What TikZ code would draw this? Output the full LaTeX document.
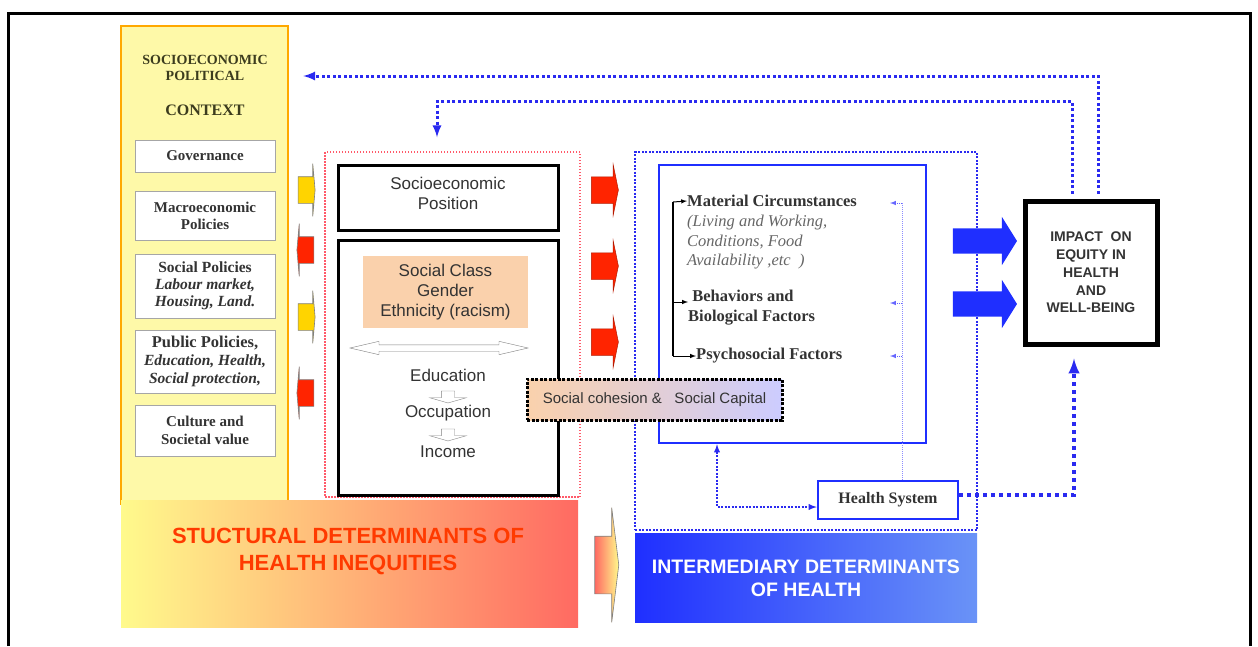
\documentclass[tikz,border=0pt]{standalone}
\usepackage{fontspec}
\setmainfont{Liberation Serif}
\setsansfont{Liberation Sans}
\usetikzlibrary{shapes.arrows,positioning}
\definecolor{ctxfill}{HTML}{FEF9A8}
\definecolor{ctxline}{HTML}{FFA800}
\definecolor{ctxtext}{HTML}{3C3C1E}
\definecolor{boxtext}{HTML}{333333}
\definecolor{subtext}{HTML}{666666}
\definecolor{peach}{HTML}{FAD1AC}
\definecolor{arryellow}{HTML}{FFD400}
\definecolor{arrred}{HTML}{FF2400}
\definecolor{mainblue}{HTML}{1F2FFF}
\definecolor{lightblue}{HTML}{6A93F7}
\definecolor{dotblue}{HTML}{2A2AF0}
\definecolor{dotred}{HTML}{FF5A6A}
\definecolor{barleft}{HTML}{FFFA8C}
\definecolor{barright}{HTML}{FF6A62}
\definecolor{bartext}{HTML}{FF3A00}
\tikzstyle{context}=[
	rectangle,
	draw=ctxline,
	line width=2.5,
	fill=ctxfill,
	minimum width=167,
	minimum height=478]
\tikzstyle{ctxtitle}=[
	align=center,
	text=ctxtext,
	font=\bfseries\fontsize{14}{16}\selectfont]
\tikzstyle{ctxitem}=[
	rectangle,
	draw=gray!70,
	line width=1,
	fill=white,
	minimum width=140,
	minimum height=32,
	inner sep=1,
	align=center,
	text=boxtext,
	font=\bfseries\fontsize{15}{17}\selectfont]
\tikzstyle{blackbox}=[
	rectangle,
	draw=black,
	line width=3,
	fill=white,
	minimum width=220,
	align=center,
	text=boxtext,
	font=\sffamily\fontsize{17}{20}\selectfont]
\tikzstyle{plain}=[
	text=boxtext,
	inner sep=1,
	font=\sffamily\fontsize{17}{20}\selectfont]
\tikzstyle{smalldown}=[
	single arrow,
	shape border rotate=270,
	draw=gray,
	fill=white,
	inner xsep=6.5,
	inner ysep=0,
	minimum height=12,
	single arrow head extend=11.5,
	single arrow tip angle=148]
\tikzstyle{thinarrow}=[
	single arrow,
	draw=gray,
	line width=0.6,
	inner xsep=0,
	inner ysep=13,
	minimum height=17,
	single arrow head extend=13,
	single arrow tip angle=170]
\tikzstyle{redarrow}=[
	single arrow,
	fill=arrred,
	draw=arrred!70!black,
	line width=0.5,
	inner xsep=0,
	inner ysep=13,
	minimum height=27,
	single arrow head extend=12,
	single arrow tip angle=157]
\tikzstyle{bluearrow}=[
	single arrow,
	fill=mainblue,
	inner xsep=0,
	inner ysep=12.5,
	minimum height=64,
	single arrow head extend=11.5,
	single arrow tip angle=116]
\tikzstyle{item}=[
	align=left,
	inner sep=0,
	text=boxtext,
	font=\bfseries\fontsize{16.5}{20}\selectfont]
\tikzstyle{feedback}=[
	draw=dotblue,
	line width=3,
	dash pattern=on 3pt off 2.5pt]

\begin{document}
\begin{tikzpicture}[x=1pt,y=-1pt,>=latex]
	\useasboundingbox (0,0) rectangle (1258,646);
	\draw[line width=3] (8,646) -- (8,13) -- (1250,13) -- (1250,646);
	% context column
	\node[context] (ctx) at (204.5,265) {};
	\node[ctxtitle] (ctxtop) at (205,68) {SOCIOECONOMIC\\POLITICAL};
	\node[ctxtitle,font=\bfseries\fontsize{16}{18}\selectfont] (ctxname) at (205,110) {CONTEXT};
	\node[ctxitem] (gov) at (205,156) {Governance};
	\node[ctxitem,minimum height=49] (macro) at (205,215.5) {Macroeconomic\\Policies};
	\node[ctxitem,minimum height=64,font=\bfseries\fontsize{15.5}{17}\selectfont] (socpol) at (205,286) {Social Policies\\\textit{Labour market,}\\\textit{Housing, Land.}};
	\node[ctxitem,minimum height=63,font=\bfseries\fontsize{15.5}{18}\selectfont] (pubpol) at (205,361.5) {{\fontsize{16.5}{18}\selectfont Public Policies,}\\\textit{Education, Health,}\\\textit{Social protection,}};
	\node[ctxitem,minimum height=51,font=\bfseries\fontsize{15}{18}\selectfont] (cult) at (205,430.5) {Culture and\\Societal value};
	\node[thinarrow,fill=arryellow] (ya1) at (306,190) {};
	\node[thinarrow,fill=arrred,shape border rotate=180] (ra1) at (306,250) {};
	\node[thinarrow,fill=arryellow] (ya2) at (306,317) {};
	\node[thinarrow,fill=arrred,shape border rotate=180] (ra2) at (306,393) {};
	% structural determinants
	\node[draw=dotred,line width=1.5,dash pattern=on 1.5pt off 1.5pt,minimum width=255,minimum height=345] (strarea) at (452.5,324.5) {};
	\node[blackbox,minimum height=65] (sep) at (448,197.5) {Socioeconomic\\Position\\[-12pt]};
	\node[blackbox,minimum height=255] (strbox) at (448,367.5) {};
	\node[fill=peach,minimum width=165,minimum height=72,align=center,text=boxtext,font=\sffamily\fontsize{17}{20}\selectfont] (cls) at (445.5,292) {Social Class\\Gender\\Ethnicity (racism)};
	\node[double arrow,draw=gray,fill=white,inner xsep=0,inner ysep=3,minimum height=178,double arrow head extend=3.5,double arrow tip angle=26] (dbl) at (439,348) {};
	\node[plain] (edu) at (448,375) {Education};
	\node[smalldown] (down1) at (448,396) {};
	\node[plain] (occ) at (448,413) {Occupation};
	\node[smalldown] (down2) at (448,434) {};
	\node[plain] (inc) at (448,452) {Income};
	\node[redarrow] (red1) at (603.5,190) {};
	\node[redarrow] (red2) at (603.5,266) {};
	\node[redarrow] (red3) at (603.5,342) {};
	% intermediary determinants
	\node[draw=dotblue,line width=2,dash pattern=on 2pt off 1.5pt,minimum width=342,minimum height=378] (intarea) at (806,341) {};
	\node[draw=mainblue,line width=2.5,fill=white,minimum width=267,minimum height=278] (inter) at (792.5,304) {};
	\node[item,anchor=west] (mat) at (687,201) {Material Circumstances};
	\node[item,font=\itshape\fontsize{16.5}{19.5}\selectfont,text=subtext] (matsub) [below=8pt of mat.south west,anchor=north west] {(Living and Working,\\Conditions, Food\\Availability ,etc\ \ )};
	\node[item,anchor=west] (beh) at (688,308) {\ Behaviors and\\Biological Factors};
	\node[item,anchor=west] (psy) at (696,356) {Psychosocial Factors};
	\coordinate (brtop) at (673,202);
	\coordinate (brbot) at (673,356);
	\draw[line width=1.5] (brtop) -- (brbot);
	\draw[->,line width=1] (brtop) -- (mat.west);
	\draw[->,line width=1] (brtop |- 0,302) -- (beh.west |- 0,302);
	\draw[->,line width=1] (brbot) -- (psy.west);
	\node[draw=black,line width=3,dash pattern=on 3pt off 1.5pt,left color=peach,right color=blue!20,minimum width=255,minimum height=41,text=boxtext,font=\sffamily\fontsize{15}{17}\selectfont] (coh) at (654.5,399.5) {Social cohesion \&\ \ \ Social Capital};
	\node[draw=mainblue,line width=2.5,fill=white,minimum width=140,minimum height=38,text=boxtext,font=\bfseries\fontsize{16}{18}\selectfont] (hs) at (888,500) {Health System};
	\coordinate (fbtop) at (902,203);
	\draw[draw=blue!45,line width=1,dash pattern=on 1pt off 1pt] (fbtop) -- (fbtop |- hs.north);
	\draw[->,draw=blue!60,line width=1,dash pattern=on 1pt off 1pt] (fbtop) -- ++(-12,0);
	\draw[->,draw=blue!60,line width=1,dash pattern=on 1pt off 1pt] (fbtop |- 0,303) -- ++(-12,0);
	\draw[->,draw=blue!60,line width=1,dash pattern=on 1pt off 1pt] (fbtop |- psy.east) -- ++(-12,0);
	\coordinate (hsc) at (717,507);
	\draw[<->,draw=dotblue,line width=1.8,dash pattern=on 2pt off 1.5pt] (inter.south -| hsc) -- (hsc) -- (hsc -| hs.west);
	% impact
	\node[draw=black,line width=5,fill=white,minimum width=132,minimum height=143,align=center,text=boxtext,font=\sffamily\bfseries\fontsize{14}{17.7}\selectfont] (imp) at (1091,272.5) {IMPACT\ \ ON\\EQUITY IN\\HEALTH\\AND\\WELL-BEING};
	\node[bluearrow] (blue1) at (981,241) {};
	\node[bluearrow] (blue2) at (981,304) {};
	\coordinate (ret) at (1074,495);
	\draw[->,draw=dotblue,line width=4,dash pattern=on 4pt off 4pt] (hs.east |- ret) -- (ret) -- ([yshift=-12pt]ret |- imp.south);
	% feedback
	\coordinate (fbout) at (1098,76);
	\coordinate (fbin) at (1072,101);
	\coordinate (fbleft) at (437,101);
	\draw[feedback,->,shorten <=5,shorten >=14] (imp.north -| fbout) -- (fbout) -- (fbout -| ctx.east);
	\draw[feedback,->,shorten <=5,shorten >=14] (imp.north -| fbin) -- (fbin) -- (fbleft) -- (fbleft |- strarea.north);
	% bottom bars
	\node[left color=barleft,right color=barright,minimum width=457,minimum height=127] (structbar) at (349.5,563.5) {};
	\node[align=center,text=bartext,font=\sffamily\bfseries\fontsize{22}{27}\selectfont] (structtxt) at (348,551.5) {STUCTURAL DETERMINANTS OF\\HEALTH INEQUITIES};
	\node[single arrow,left color=barright,right color=barleft,draw=gray,line width=0.6,inner xsep=0,inner ysep=28.5,minimum height=24,single arrow head extend=28.5,single arrow tip angle=166] (garr) at (605,565) {};
	\node[left color=mainblue,right color=lightblue,minimum width=342,minimum height=89,align=center,text=white,font=\sffamily\bfseries\fontsize{19.5}{23}\selectfont] (interbar) at (806,578) {INTERMEDIARY DETERMINANTS\\OF HEALTH};
\end{tikzpicture}
\end{document}
